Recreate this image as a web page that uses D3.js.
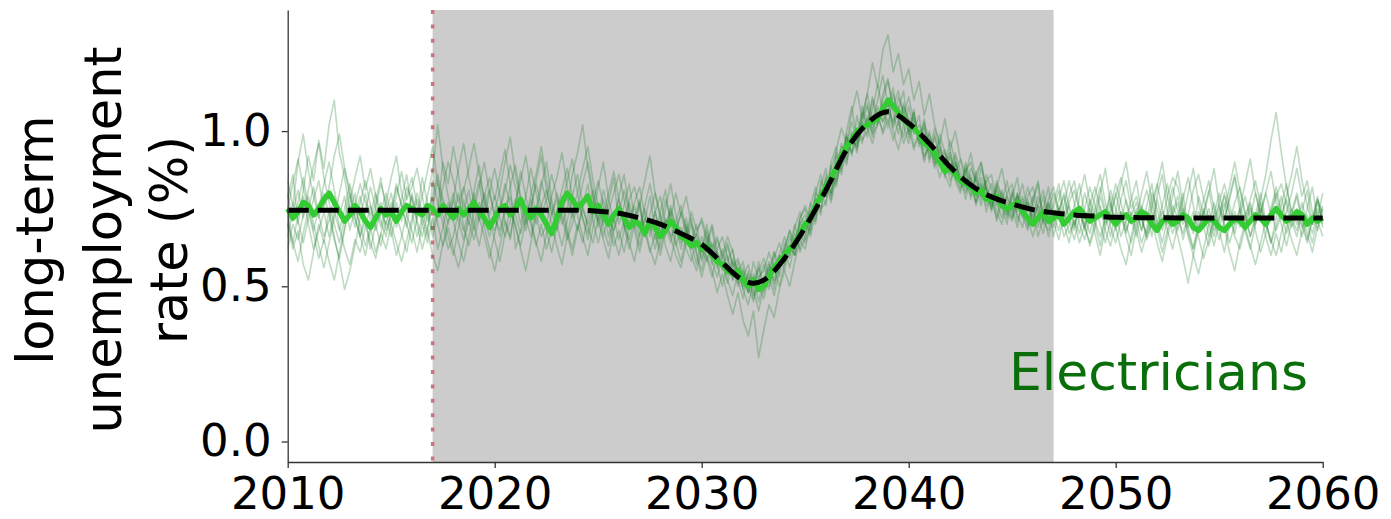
<!DOCTYPE html>
<html>
<head>
<meta charset="utf-8">
<script src="https://cdn.jsdelivr.net/npm/d3@7/dist/d3.min.js"></script>
<style>
  html, body { margin: 0; padding: 0; background: #ffffff; }
  svg { display: block; font-family: "DejaVu Sans", sans-serif; }
</style>
</head>
<body>
<svg id="chart" width="1391" height="519"></svg>
<script>
// Axis ticks and reference periods
const xTicks = [2010, 2020, 2030, 2040, 2050, 2060];
const yTicks = [0.0, 0.5, 1.0];
const baselineYear = 2017;
const shockStart = 2017;
const shockEnd = 2047;
const occupation = "Electricians";
const yLabelLines = ["long-term", "unemployment", "rate (%)"];

// Quarterly time stamps shared by all simulated runs
const quarterYears = d3.range(0, 201).map(i => 2010 + i / 4);

// Individual simulated runs (quarterly, %)
const sim1 = [
0.78,0.86,0.70,0.81, 0.92,0.84,0.97,0.88, 1.02,1.10,0.93,0.85, 0.74,0.80,0.66,0.71, 0.62,0.70,0.77,0.68,
0.73,0.82,0.76,0.69, 0.80,0.72,0.85,0.77, 0.68,0.75,0.90,0.83, 0.95,0.86,0.74,0.81, 0.70,0.63,0.72,0.80,
0.88,0.79,0.71,0.65, 0.77,0.84,0.92,0.81, 0.73,0.66,0.70,0.79, 0.85,0.93,0.82,0.74, 0.68,0.76,0.83,0.71,
0.64,0.72,0.80,0.87, 0.78,0.69,0.62,0.70, 0.77,0.66,0.73,0.80, 0.72,0.63,0.58,0.67, 0.74,0.69,0.60,0.55,
0.62,0.70,0.58,0.53, 0.60,0.52,0.47,0.55, 0.49,0.44,0.52,0.56, 0.48,0.55,0.61,0.53, 0.62,0.68,0.60,0.72,
0.75,0.68,0.80,0.86, 0.79,0.90,0.95,0.87, 1.00,1.08,0.97,1.05, 1.12,1.03,1.10,1.18, 1.08,1.14,1.02,1.09,
0.98,1.06,0.95,1.01, 0.90,0.99,0.92,0.85, 0.93,0.84,0.80,0.89, 0.78,0.86,0.90,0.81, 0.74,0.82,0.76,0.70,
0.79,0.85,0.73,0.68, 0.77,0.83,0.71,0.76, 0.66,0.74,0.80,0.72, 0.68,0.79,0.86,0.77, 0.70,0.63,0.72,0.81,
0.75,0.66,0.71,0.78, 0.84,0.73,0.65,0.70, 0.79,0.86,0.74,0.67, 0.72,0.80,0.69,0.62, 0.71,0.78,0.84,0.75,
0.68,0.61,0.70,0.77, 0.82,0.74,0.66,0.73, 0.80,0.71,0.64,0.69, 0.76,0.83,0.72,0.68, 0.74,0.81,0.70,0.77,
0.73];
const sim2 = [
0.70,0.62,0.68,0.57, 0.52,0.61,0.70,0.64, 0.75,0.66,0.58,0.49, 0.55,0.63,0.72,0.80, 0.71,0.77,0.85,0.74,
0.68,0.60,0.66,0.73, 0.79,0.70,0.62,0.69, 0.76,0.84,0.73,0.66, 0.60,0.69,0.78,0.70, 0.81,0.89,0.77,0.72,
0.65,0.58,0.67,0.75, 0.70,0.62,0.55,0.64, 0.73,0.82,0.90,0.78, 0.70,0.63,0.71,0.79, 0.86,0.76,0.69,0.64,
0.72,0.81,0.74,0.66, 0.60,0.68,0.77,0.70, 0.63,0.71,0.79,0.68, 0.62,0.70,0.74,0.64, 0.58,0.66,0.72,0.61,
0.55,0.63,0.69,0.57, 0.50,0.58,0.62,0.52, 0.46,0.55,0.49,0.42, 0.50,0.57,0.49,0.60, 0.55,0.63,0.70,0.61,
0.66,0.74,0.70,0.82, 0.88,0.79,0.86,0.96, 0.90,1.00,0.93,1.04, 1.09,0.99,1.02,1.12, 1.17,1.06,0.99,1.08,
1.04,0.95,1.00,0.91, 0.98,0.88,0.95,0.86, 0.82,0.90,0.85,0.78, 0.86,0.76,0.83,0.74, 0.80,0.71,0.77,0.84,
0.75,0.69,0.78,0.72, 0.66,0.73,0.79,0.70, 0.77,0.83,0.74,0.67, 0.71,0.64,0.70,0.78, 0.73,0.80,0.88,0.76,
0.69,0.62,0.57,0.66, 0.74,0.68,0.76,0.83, 0.71,0.64,0.72,0.79, 0.87,0.76,0.69,0.74, 0.66,0.59,0.65,0.73,
0.80,0.72,0.78,0.85, 0.74,0.68,0.62,0.70, 0.77,0.70,0.64,0.72, 0.79,0.71,0.65,0.60, 0.68,0.75,0.82,0.71,
0.66];
const sim3 = [
0.84,0.76,0.90,0.99, 0.87,0.79,0.72,0.80, 0.73,0.65,0.59,0.68, 0.77,0.85,0.92,0.81, 0.88,0.79,0.71,0.66,
0.74,0.83,0.76,0.70, 0.64,0.72,0.79,0.87, 0.95,0.83,0.77,0.70, 0.78,0.88,0.96,0.85, 0.77,0.84,0.72,0.66,
0.74,0.81,0.90,0.98, 0.86,0.78,0.70,0.75, 0.83,0.76,0.68,0.61, 0.69,0.76,0.84,0.91, 0.80,0.72,0.65,0.73,
0.82,0.90,0.78,0.71, 0.79,0.86,0.75,0.69, 0.76,0.84,0.92,0.80, 0.73,0.66,0.75,0.69, 0.62,0.70,0.64,0.57,
0.66,0.59,0.53,0.61, 0.55,0.63,0.57,0.50, 0.55,0.48,0.58,0.52, 0.57,0.50,0.59,0.64, 0.58,0.66,0.62,0.71,
0.65,0.76,0.82,0.74, 0.84,0.78,0.92,0.88, 0.98,0.92,1.05,0.97, 1.00,1.10,1.02,1.08, 1.01,1.12,1.04,0.98,
1.08,1.00,1.05,0.94, 1.00,0.91,0.97,0.88, 0.94,0.86,0.91,0.83, 0.79,0.87,0.78,0.84, 0.75,0.82,0.88,0.79,
0.72,0.80,0.74,0.82, 0.76,0.69,0.75,0.82, 0.71,0.65,0.73,0.79, 0.84,0.75,0.69,0.64, 0.71,0.79,0.73,0.66,
0.74,0.83,0.90,0.79, 0.71,0.64,0.69,0.77, 0.83,0.75,0.68,0.62, 0.70,0.78,0.85,0.76, 0.68,0.74,0.81,0.72,
0.65,0.71,0.79,0.86, 0.77,0.70,0.76,0.68, 0.61,0.67,0.74,0.80, 0.72,0.79,0.86,0.95, 0.84,0.76,0.70,0.78,
0.74];
const sim4 = [
0.66,0.74,0.81,0.72, 0.79,0.70,0.63,0.56, 0.64,0.72,0.80,0.88, 0.79,0.72,0.66,0.74, 0.82,0.75,0.69,0.77,
0.85,0.92,0.80,0.73, 0.68,0.61,0.70,0.64, 0.72,0.62,0.69,0.77, 0.71,0.64,0.58,0.66, 0.74,0.82,0.90,0.80,
0.73,0.66,0.74,0.82, 0.89,0.79,0.72,0.66, 0.75,0.84,0.77,0.70, 0.63,0.57,0.66,0.74, 0.80,0.88,0.95,0.84,
0.76,0.69,0.63,0.71, 0.78,0.70,0.64,0.58, 0.67,0.75,0.69,0.62, 0.70,0.78,0.72,0.80, 0.73,0.67,0.74,0.68,
0.71,0.64,0.57,0.62, 0.66,0.59,0.52,0.58, 0.50,0.54,0.46,0.51, 0.46,0.53,0.47,0.55, 0.62,0.56,0.64,0.70,
0.73,0.67,0.78,0.75, 0.77,0.86,0.82,0.93, 0.89,0.99,0.95,1.03, 0.98,1.07,1.15,1.06, 1.10,1.01,1.07,1.13,
0.99,1.06,0.97,1.02, 0.93,1.01,0.95,0.89, 0.97,0.90,0.83,0.87, 0.90,0.82,0.76,0.84, 0.86,0.77,0.72,0.80,
0.83,0.74,0.79,0.70, 0.78,0.84,0.71,0.68, 0.75,0.81,0.70,0.64, 0.72,0.67,0.75,0.82, 0.76,0.70,0.64,0.71,
0.80,0.73,0.67,0.74, 0.68,0.61,0.67,0.75, 0.82,0.90,0.79,0.72, 0.66,0.59,0.51,0.60, 0.68,0.75,0.70,0.63,
0.71,0.80,0.74,0.67, 0.75,0.83,0.91,0.80, 0.73,0.80,0.87,0.77, 0.70,0.63,0.71,0.66, 0.74,0.67,0.61,0.69,
0.76];
const sim5 = [
0.73,0.64,0.58,0.67, 0.75,0.82,0.73,0.66, 0.71,0.79,0.69,0.62, 0.57,0.65,0.61,0.69, 0.76,0.70,0.63,0.71,
0.66,0.73,0.67,0.61, 0.70,0.78,0.72,0.66, 0.84,0.77,0.70,0.62, 0.66,0.74,0.81,0.88, 0.96,0.86,0.78,0.71,
0.68,0.75,0.83,0.76, 0.69,0.63,0.71,0.80, 0.86,0.95,0.84,0.76, 0.71,0.79,0.68,0.62, 0.70,0.64,0.73,0.81,
0.73,0.66,0.74,0.80, 0.86,0.78,0.71,0.77, 0.82,0.73,0.66,0.74, 0.67,0.75,0.83,0.73, 0.66,0.72,0.64,0.70,
0.61,0.68,0.63,0.56, 0.62,0.54,0.59,0.51, 0.56,0.48,0.53,0.45, 0.52,0.58,0.51,0.56, 0.64,0.59,0.67,0.62,
0.71,0.66,0.74,0.81, 0.76,0.89,0.83,0.90, 0.98,0.93,1.01,0.96, 1.05,0.98,1.08,1.03, 1.09,1.02,1.11,1.06,
1.00,1.07,0.96,1.03, 0.97,0.90,0.99,0.93, 0.86,0.92,0.84,0.80, 0.85,0.79,0.88,0.81, 0.75,0.83,0.78,0.72,
0.80,0.73,0.69,0.77, 0.71,0.79,0.74,0.66, 0.73,0.68,0.76,0.84, 0.77,0.70,0.65,0.72, 0.79,0.86,0.77,0.69,
0.64,0.71,0.78,0.72, 0.66,0.75,0.81,0.74, 0.69,0.61,0.68,0.74, 0.79,0.72,0.80,0.88, 0.77,0.69,0.63,0.70,
0.76,0.69,0.61,0.55, 0.64,0.71,0.78,0.84, 0.76,0.69,0.75,0.82, 0.74,0.67,0.73,0.79, 0.70,0.64,0.72,0.78,
0.71];
const sim6 = [
0.80,0.71,0.77,0.85, 0.76,0.68,0.75,0.83, 0.90,0.81,0.73,0.79, 0.68,0.75,0.70,0.63, 0.69,0.61,0.67,0.74,
0.80,0.71,0.78,0.86, 0.74,0.66,0.72,0.79, 0.87,1.02,0.88,0.79, 0.72,0.80,0.69,0.63, 0.70,0.77,0.69,0.62,
0.55,0.63,0.71,0.66, 0.76,0.87,0.79,0.71, 0.64,0.58,0.67,0.73, 0.78,0.70,0.75,0.86, 0.93,1.02,0.88,0.78,
0.71,0.65,0.59,0.68, 0.73,0.81,0.74,0.68, 0.61,0.69,0.62,0.57, 0.65,0.72,0.66,0.60, 0.56,0.64,0.70,0.60,
0.53,0.60,0.55,0.48, 0.54,0.47,0.41,0.48, 0.39,0.34,0.42,0.27, 0.36,0.44,0.40,0.49, 0.55,0.50,0.58,0.65,
0.62,0.70,0.78,0.73, 0.86,0.80,0.94,1.01, 0.96,1.06,1.13,1.04, 1.12,1.22,1.14,1.26, 1.31,1.19,1.25,1.15,
1.20,1.10,1.16,1.05, 1.12,1.02,0.96,1.04, 0.94,1.00,0.91,0.86, 0.93,0.84,0.90,0.81, 0.76,0.84,0.79,0.73,
0.81,0.71,0.76,0.69, 0.74,0.66,0.72,0.78, 0.82,0.74,0.79,0.71, 0.65,0.72,0.80,0.74, 0.67,0.60,0.69,0.75,
0.83,0.77,0.70,0.64, 0.72,0.80,0.87,0.77, 0.70,0.76,0.83,0.74, 0.68,0.75,0.66,0.60, 0.54,0.62,0.70,0.77,
0.69,0.75,0.82,0.90, 0.81,0.73,0.66,0.71, 0.78,0.86,0.97,1.06, 0.93,0.82,0.74,0.80, 0.72,0.65,0.71,0.79,
0.69];
const sim7 = [
0.62,0.70,0.65,0.73, 0.81,0.89,0.96,0.85, 0.77,0.70,0.64,0.72, 0.80,0.72,0.66,0.60, 0.68,0.75,0.83,0.77,
0.70,0.64,0.58,0.65, 0.72,0.80,0.74,0.68, 0.60,0.55,0.64,0.71, 0.78,0.71,0.65,0.73, 0.80,0.72,0.66,0.59,
0.67,0.74,0.81,0.89, 0.82,0.75,0.68,0.76, 0.84,0.92,0.81,0.73, 0.80,0.74,0.67,0.60, 0.68,0.75,0.70,0.77,
0.84,0.76,0.70,0.63, 0.68,0.61,0.69,0.76, 0.69,0.76,0.83,0.74, 0.79,0.70,0.64,0.71, 0.76,0.68,0.62,0.67,
0.72,0.66,0.62,0.66, 0.59,0.64,0.56,0.59, 0.53,0.57,0.50,0.55, 0.59,0.53,0.61,0.57, 0.62,0.68,0.64,0.72,
0.76,0.71,0.80,0.77, 0.85,0.80,0.88,0.95, 0.91,0.99,0.94,1.02, 1.08,1.01,1.06,0.99, 1.04,0.97,1.03,0.96,
1.01,0.94,0.99,0.92, 0.95,0.89,0.94,0.86, 0.92,0.85,0.81,0.88, 0.82,0.77,0.85,0.78, 0.83,0.76,0.81,0.75,
0.72,0.79,0.73,0.78, 0.70,0.76,0.81,0.73, 0.69,0.76,0.70,0.77, 0.81,0.74,0.68,0.76, 0.82,0.75,0.68,0.63,
0.70,0.78,0.84,0.75, 0.79,0.72,0.66,0.71, 0.64,0.58,0.66,0.73, 0.77,0.70,0.73,0.81, 0.86,0.78,0.72,0.66,
0.74,0.79,0.73,0.66, 0.62,0.69,0.63,0.57, 0.64,0.71,0.65,0.60, 0.67,0.74,0.80,0.88, 0.79,0.84,0.74,0.68,
0.75];
const sim8 = [
0.75,0.83,0.91,0.82, 0.74,0.67,0.59,0.65, 0.58,0.52,0.61,0.69, 0.76,0.69,0.77,0.84, 0.76,0.68,0.74,0.80,
0.73,0.79,0.87,0.78, 0.82,0.88,0.79,0.71, 0.78,0.70,0.63,0.69, 0.62,0.56,0.64,0.71, 0.65,0.72,0.79,0.85,
0.78,0.86,0.94,0.83, 0.62,0.68,0.76,0.70, 0.63,0.70,0.62,0.68, 0.74,0.81,0.88,0.79, 0.73,0.66,0.60,0.69,
0.77,0.70,0.77,0.85, 0.70,0.76,0.83,0.72, 0.78,0.66,0.72,0.65, 0.74,0.81,0.70,0.63, 0.69,0.62,0.58,0.65,
0.58,0.64,0.70,0.61, 0.57,0.51,0.58,0.55, 0.49,0.53,0.47,0.58, 0.49,0.56,0.52,0.60, 0.66,0.60,0.69,0.74,
0.68,0.77,0.72,0.84, 0.79,0.88,0.93,0.86, 0.95,1.03,0.96,1.08, 1.02,1.11,1.05,1.00, 1.07,1.00,0.94,1.02,
0.96,1.04,0.98,0.90, 0.97,0.92,0.85,0.91, 0.84,0.89,0.82,0.90, 0.84,0.77,0.83,0.76, 0.78,0.72,0.80,0.74,
0.71,0.77,0.83,0.74, 0.79,0.73,0.67,0.75, 0.80,0.74,0.66,0.70, 0.76,0.83,0.73,0.67, 0.75,0.82,0.74,0.79,
0.68,0.74,0.66,0.60, 0.69,0.76,0.71,0.80, 0.75,0.68,0.74,0.82, 0.74,0.65,0.72,0.67, 0.79,0.73,0.80,0.88,
0.76,0.70,0.64,0.70, 0.73,0.79,0.72,0.80, 0.73,0.66,0.60,0.67, 0.61,0.69,0.75,0.70, 0.77,0.70,0.64,0.72,
0.80];
const sim9 = [
0.69,0.77,0.71,0.64, 0.72,0.78,0.84,0.75, 0.82,0.92,0.99,0.88, 0.81,0.73,0.79,0.71, 0.64,0.59,0.67,0.62,
0.70,0.77,0.71,0.79, 0.85,0.76,0.70,0.74, 0.66,0.73,0.82,0.90, 0.84,0.77,0.82,0.75, 0.68,0.74,0.80,0.73,
0.79,0.72,0.66,0.71, 0.78,0.70,0.79,0.88, 0.80,0.73,0.78,0.86, 0.79,0.72,0.65,0.70, 0.76,0.83,0.90,0.80,
0.69,0.75,0.66,0.72, 0.65,0.71,0.78,0.82, 0.75,0.68,0.61,0.67, 0.60,0.68,0.76,0.69, 0.73,0.79,0.70,0.66,
0.59,0.66,0.60,0.65, 0.60,0.66,0.61,0.54, 0.58,0.50,0.45,0.53, 0.55,0.61,0.56,0.50, 0.57,0.63,0.60,0.67,
0.64,0.70,0.77,0.80, 0.83,0.77,0.85,0.92, 0.99,0.93,0.97,1.06, 1.01,0.96,1.03,1.10, 1.16,1.08,1.13,1.05,
1.11,1.03,0.97,1.04, 0.91,0.98,0.91,0.94, 0.88,0.93,0.87,0.81, 0.88,0.84,0.79,0.86, 0.81,0.74,0.70,0.77,
0.74,0.80,0.72,0.79, 0.82,0.75,0.70,0.77, 0.72,0.78,0.84,0.75, 0.69,0.75,0.70,0.63, 0.69,0.76,0.70,0.74,
0.79,0.85,0.77,0.70, 0.75,0.68,0.74,0.66, 0.78,0.71,0.79,0.85, 0.82,0.74,0.67,0.62, 0.69,0.74,0.66,0.71,
0.77,0.83,0.76,0.70, 0.75,0.68,0.75,0.70, 0.74,0.80,0.73,0.79, 0.83,0.76,0.69,0.73, 0.66,0.72,0.67,0.74,
0.70];
const sim10 = [
0.71,0.64,0.73,0.79, 0.70,0.62,0.68,0.74, 0.66,0.74,0.68,0.75, 0.83,0.76,0.83,0.77, 0.73,0.80,0.74,0.70,
0.77,0.69,0.74,0.82, 0.78,0.71,0.66,0.73, 0.79,0.86,0.78,0.74, 0.80,0.73,0.68,0.74, 0.78,0.71,0.76,0.81,
0.72,0.68,0.75,0.79, 0.73,0.67,0.72,0.78, 0.70,0.76,0.81,0.74, 0.68,0.74,0.79,0.72, 0.77,0.72,0.67,0.75,
0.71,0.78,0.72,0.68, 0.75,0.70,0.65,0.72, 0.66,0.72,0.68,0.74, 0.67,0.71,0.66,0.70, 0.64,0.68,0.63,0.67,
0.62,0.58,0.64,0.60, 0.56,0.60,0.52,0.56, 0.52,0.48,0.54,0.50, 0.53,0.49,0.56,0.60, 0.57,0.63,0.60,0.68,
0.70,0.74,0.71,0.79, 0.82,0.86,0.84,0.90, 0.93,0.97,0.95,1.01, 1.04,1.00,1.06,1.03, 1.07,1.03,1.08,1.02,
1.04,0.99,1.02,0.97, 0.99,0.94,0.90,0.93, 0.87,0.90,0.84,0.86, 0.81,0.85,0.79,0.82, 0.77,0.81,0.76,0.79,
0.75,0.79,0.74,0.77, 0.72,0.76,0.73,0.77, 0.71,0.75,0.72,0.76, 0.70,0.74,0.69,0.75, 0.71,0.66,0.72,0.77,
0.70,0.74,0.68,0.73, 0.77,0.71,0.67,0.73, 0.69,0.74,0.70,0.76, 0.72,0.67,0.73,0.69, 0.74,0.70,0.75,0.68,
0.72,0.77,0.70,0.74, 0.69,0.73,0.77,0.71, 0.75,0.70,0.74,0.68, 0.73,0.78,0.71,0.75, 0.69,0.73,0.70,0.75,
0.72];

// Highlighted run (quarterly, %)
const highlightRun = [
0.75,0.72,0.74,0.77, 0.76,0.73,0.75,0.78, 0.80,0.77,0.74,0.71, 0.73,0.76,0.74,0.71, 0.69,0.72,0.75,0.73,
0.74,0.71,0.74,0.76, 0.75,0.74,0.73,0.76, 0.75,0.73,0.76,0.74, 0.72,0.75,0.73,0.75, 0.77,0.74,0.72,0.69,
0.72,0.75,0.76,0.73, 0.75,0.78,0.74,0.72, 0.75,0.73,0.70,0.67, 0.72,0.77,0.80,0.78, 0.75,0.77,0.79,0.74,
0.76,0.73,0.70,0.73, 0.75,0.72,0.69,0.71, 0.70,0.67,0.71,0.69, 0.66,0.68,0.71,0.69, 0.66,0.65,0.63,0.64,
0.62,0.63,0.60,0.58, 0.57,0.55,0.54,0.55, 0.52,0.50,0.52,0.49, 0.50,0.53,0.56,0.58, 0.60,0.62,0.64,0.67,
0.70,0.72,0.76,0.79, 0.82,0.85,0.88,0.92, 0.95,0.97,1.00,1.01, 1.02,1.03,1.04,1.07, 1.10,1.08,1.06,1.04,
1.02,1.01,0.99,0.96, 0.95,0.93,0.90,0.87, 0.88,0.86,0.84,0.83, 0.82,0.80,0.81,0.78, 0.78,0.79,0.76,0.75,
0.76,0.77,0.74,0.72, 0.70,0.72,0.74,0.71, 0.72,0.73,0.70,0.72, 0.74,0.75,0.73,0.71, 0.72,0.73,0.74,0.72,
0.70,0.72,0.73,0.71, 0.72,0.74,0.73,0.70, 0.68,0.71,0.72,0.70, 0.71,0.73,0.72,0.69, 0.68,0.70,0.72,0.71,
0.69,0.68,0.70,0.72, 0.71,0.69,0.71,0.73, 0.72,0.70,0.73,0.75, 0.73,0.71,0.72,0.74, 0.73,0.70,0.72,0.71,
0.72];

// Ensemble mean trajectory
const meanYears = [2010, 2015, 2020, 2024, 2025, 2026, 2027, 2028, 2029, 2030, 2031, 2032, 2032.5, 2033,
  2034, 2035, 2036, 2037, 2038, 2039, 2040, 2041, 2042, 2043, 2044, 2045, 2046, 2047, 2048, 2049, 2050, 2055, 2060];
const meanRate = [0.745, 0.745, 0.745, 0.745, 0.742, 0.735, 0.72, 0.70, 0.67, 0.635, 0.575, 0.52, 0.51, 0.52,
  0.59, 0.69, 0.81, 0.94, 1.025, 1.062, 1.025, 0.96, 0.885, 0.826, 0.788, 0.765, 0.747, 0.737, 0.73, 0.726, 0.722, 0.72, 0.72];

const simRuns = [sim1, sim2, sim3, sim4, sim5, sim6, sim7, sim8, sim9, sim10];

// ---- layout ----
const plot = { left: 287.7, right: 1322.7, top: 10, bottom: 462 };
const svg = d3.select("#chart");

const x = d3.scaleLinear().domain([2010, 2060]).range([plot.left, plot.right]);
const y = d3.scaleLinear().domain([-0.066, 1.39]).range([plot.bottom, plot.top]);

// Shaded transition period
svg.append("rect")
  .attr("x", x(shockStart))
  .attr("y", plot.top)
  .attr("width", x(shockEnd) - x(shockStart))
  .attr("height", plot.bottom - plot.top)
  .attr("fill", "#cccccc");

// Baseline year marker
svg.append("line")
  .attr("x1", x(baselineYear)).attr("x2", x(baselineYear))
  .attr("y1", plot.top).attr("y2", plot.bottom)
  .attr("stroke", "#c8606c")
  .attr("stroke-opacity", 0.85)
  .attr("stroke-width", 3.5)
  .attr("stroke-dasharray", "4,10.4");

const lineQ = d3.line()
  .x((d, i) => x(quarterYears[i]))
  .y(d => y(d));

// Simulated runs
svg.append("g")
  .selectAll("path")
  .data(simRuns)
  .join("path")
  .attr("d", lineQ)
  .attr("fill", "none")
  .attr("stroke", "#1a7f26")
  .attr("stroke-opacity", 0.28)
  .attr("stroke-width", 1.6)
  .attr("stroke-linejoin", "round");

// Highlighted run
svg.append("path")
  .attr("d", lineQ(highlightRun))
  .attr("fill", "none")
  .attr("stroke", "#33cc33")
  .attr("stroke-width", 5.5)
  .attr("stroke-linejoin", "round");

// Mean trajectory
const lineMean = d3.line()
  .x((d, i) => x(meanYears[i]))
  .y(d => y(d))
  .curve(d3.curveMonotoneX);

svg.append("path")
  .attr("d", lineMean(meanRate))
  .attr("fill", "none")
  .attr("stroke", "#000000")
  .attr("stroke-width", 5)
  .attr("stroke-dasharray", "21,9");

// Axes
const axisFont = 45;
const gx = svg.append("g")
  .attr("transform", `translate(0,${plot.bottom})`)
  .call(d3.axisBottom(x).tickValues(xTicks).tickFormat(d3.format("d")).tickSize(6).tickSizeOuter(0).tickPadding(9));
const gy = svg.append("g")
  .attr("transform", `translate(${plot.left},0)`)
  .call(d3.axisLeft(y).tickValues(yTicks).tickFormat(d3.format(".1f")).tickSize(6).tickSizeOuter(0).tickPadding(10));

[gx, gy].forEach(g => {
  g.select(".domain").attr("stroke", "#333333").attr("stroke-width", 1.3);
  g.selectAll(".tick line").attr("stroke", "#333333").attr("stroke-width", 1.3);
  g.selectAll(".tick text")
    .attr("fill", "#000000")
    .style("font-family", "'DejaVu Sans', sans-serif")
    .style("font-size", axisFont + "px");
});

// Y axis title (three stacked lines)
const yLabelBaselines = [53, 121, 187];
const yLabelCenter = 240;
yLabelLines.forEach((t, i) => {
  svg.append("text")
    .attr("transform", `translate(${yLabelBaselines[i]},${yLabelCenter}) rotate(-90)`)
    .attr("text-anchor", "middle")
    .style("font-size", "51px")
    .attr("fill", "#000000")
    .text(t);
});

// Occupation label
svg.append("text")
  .attr("x", 1308)
  .attr("y", 390)
  .attr("text-anchor", "end")
  .style("font-size", "52px")
  .attr("fill", "#0a6e0a")
  .text(occupation);
</script>
</body>
</html>
